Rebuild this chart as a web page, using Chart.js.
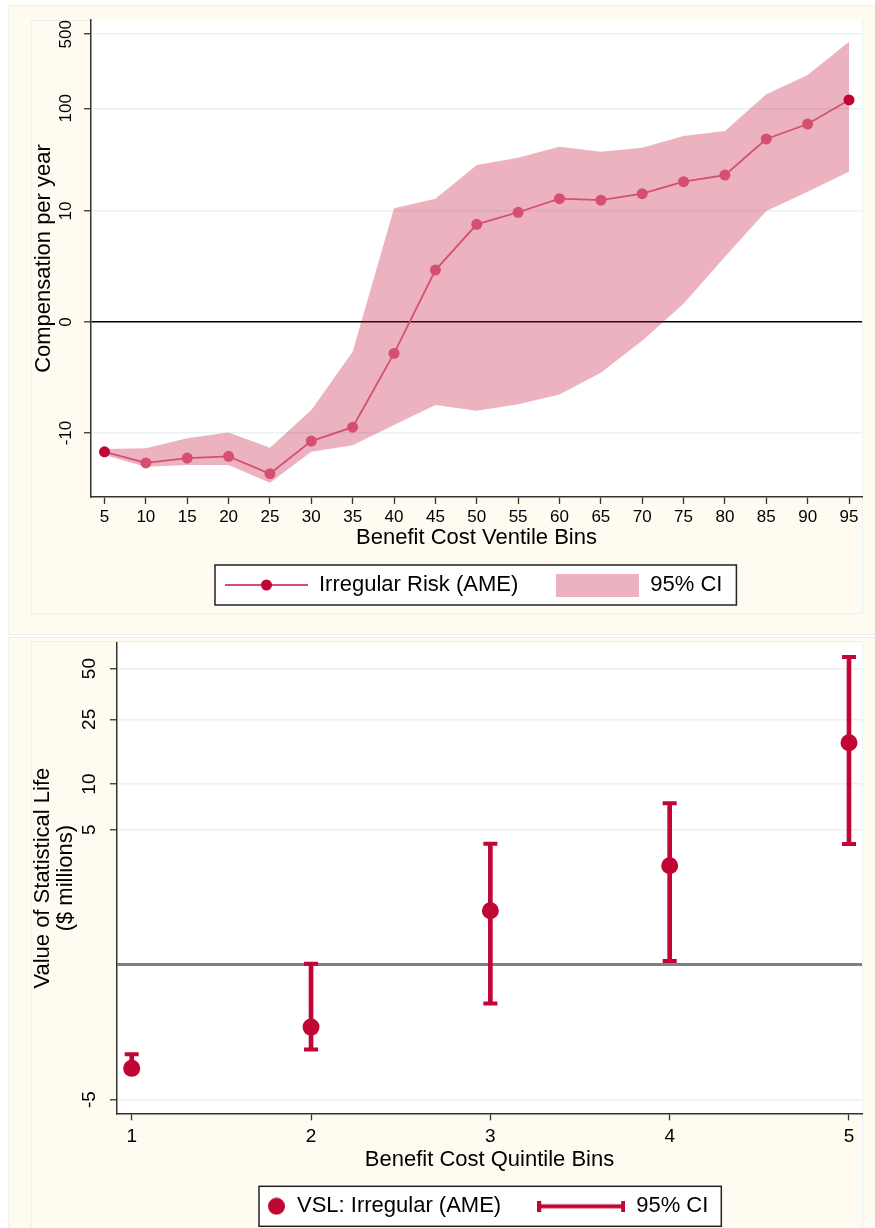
<!doctype html>
<html>
<head>
<meta charset="utf-8">
<script src="https://cdn.jsdelivr.net/npm/chart.js@4.4.1/dist/chart.umd.min.js"></script>
<style>
  body { margin: 0; background: #fff; width: 875px; height: 1228px; position: relative; overflow: hidden; }
  .region { position: absolute; background: #fffbf0; border: 1px solid #e9f1f4; box-sizing: border-box; }
  canvas { position: absolute; left: 0; }
</style>
</head>
<body>
  <div class="region" style="left:8px; top:5px; width:880px; height:630px;"></div>
  <div class="region" style="left:31px; top:20px; width:832px; height:594px;"></div>
  <div class="region" style="left:8px; top:637px; width:880px; height:600px;"></div>
  <div class="region" style="left:31px; top:641px; width:832px; height:600px;"></div>
  <canvas id="top" width="875" height="636" style="top:0"></canvas>
  <canvas id="bottom" width="875" height="596" style="top:632px"></canvas>
  <script>
    // top panel: ventile bins
    const bins = [5, 10, 15, 20, 25, 30, 35, 40, 45, 50, 55, 60, 65, 70, 75, 80, 85, 90, 95];
    const ame = [-15.5, -20.0, -17.9, -17.2, -25.5, -12.1, -8.7, -0.97, 2.07, 7.25, 9.7, 13.35, 12.9, 15.0, 19.7, 22.9, 51.1, 71.0, 120];
    const ciUpper = [-14.5, -14.3, -11.3, -9.9, -14.1, -5.7, -0.9, 10.7, 13.3, 28.7, 33.8, 43.1, 38.6, 42.2, 54.6, 60.9, 135.8, 206.5, 425];
    const ciLower = [-16.7, -21.8, -20.9, -20.9, -31.2, -15.5, -13.3, -8.25, -5.0, -5.8, -4.9, -3.8, -2.0, -0.5, 0.48, 3.1, 10.0, 15.7, 24.7];
    const yTicksTop = [-10, 0, 10, 100, 500];

    // bottom panel: quintile bins
    const quintiles = [1, 2, 3, 4, 5];
    const vsl = [-2.96, -1.29, 1.05, 2.72, 18.05];
    const vslUpper = [-2.28, 0.013, 3.98, 7.54, 58.5];
    const vslLower = [-3.1, -2.08, -0.675, 0.049, 3.96];
    const yTicksBottom = [-5, 0, 5, 10, 25, 50];
    const yLabelsBottom = ['-5', '', '5', '10', '25', '50'];

    // signed log axis, like the Stata graph
    const slog = v => Math.sign(v) * Math.log10(1 + Math.abs(v));

    const CRAN = '#c10534';
    const LINE = '#d4506e';
    const BAND = 'rgba(193,5,52,0.31)';
    const GRID = '#eaf2f3';
    const AXIS = '#333';

    Chart.defaults.font.family = '"Liberation Sans", Arial, sans-serif';
    Chart.defaults.color = '#000';

    function symbol(w, h, draw) {
      const c = document.createElement('canvas');
      c.width = w; c.height = h;
      draw(c.getContext('2d'), w, h);
      return c;
    }
    const symLine = symbol(83, 14, (g, w, h) => {
      g.strokeStyle = LINE; g.lineWidth = 2;
      g.beginPath(); g.moveTo(0, h / 2); g.lineTo(w, h / 2); g.stroke();
      g.fillStyle = CRAN; g.beginPath(); g.arc(w / 2, h / 2, 5.5, 0, 2 * Math.PI); g.fill();
    });
    const symBand = symbol(83, 23, (g, w, h) => { g.fillStyle = '#ebb3c0'; g.fillRect(0, 0, w, h); });
    const symDot = symbol(88, 18, (g, w, h) => {
      g.fillStyle = CRAN; g.beginPath(); g.arc(78.5, 9, 8.5, 0, 2 * Math.PI); g.fill();
    });
    const symBar = symbol(88, 11, (g, w, h) => {
      g.fillStyle = CRAN;
      g.fillRect(0, 3.5, w, 4); g.fillRect(0, 0, 4, h); g.fillRect(w - 4, 0, 4, h);
    });

    // white plot area + boxed legend placed where Stata puts it
    const frame = {
      id: 'frame',
      afterUpdate(chart, args, opts) {
        const lg = chart.legend;
        const hb = lg.legendHitBoxes;
        const shift = opts.first - hb[0].left;
        lg.left += shift; lg.right += shift;
        hb.forEach(h => { h.left += shift; });
      },
      beforeDraw(chart, args, opts) {
        const {ctx, chartArea: a} = chart;
        ctx.save();
        ctx.fillStyle = '#fff';
        ctx.fillRect(a.left, a.top, a.right - a.left, a.bottom - a.top);
        const hb = chart.legend.legendHitBoxes;
        const last = hb[hb.length - 1];
        const x0 = hb[0].left + opts.inset - opts.padL;
        const x1 = last.left + last.width + opts.padR;
        const cy = hb[0].top + hb[0].height / 2;
        ctx.fillRect(x0, cy - opts.halfH, x1 - x0, 2 * opts.halfH);
        ctx.strokeStyle = '#222';
        ctx.lineWidth = 1.5;
        ctx.strokeRect(x0, cy - opts.halfH, x1 - x0, 2 * opts.halfH);
        ctx.restore();
      }
    };

    const isZero = c => c.tick && Math.abs(c.tick.value) < 1e-9;
    const fixY = w => s => { s.width = w; s.paddingTop = 0; s.paddingBottom = 0; };

    new Chart(document.getElementById('top'), {
      type: 'line',
      data: {
        datasets: [{
          label: 'Irregular Risk (AME)',
          data: bins.map((b, i) => ({x: b, y: slog(ame[i])})),
          borderColor: LINE,
          borderWidth: 1.8,
          pointRadius: 5.5,
          pointBorderWidth: 0,
          pointBackgroundColor: bins.map((b, i) => (i === 0 || i === bins.length - 1) ? CRAN : LINE),
          fill: false,
          order: 0
        }, {
          label: 'upper',
          data: bins.map((b, i) => ({x: b, y: slog(ciUpper[i])})),
          borderColor: 'rgba(0,0,0,0)',
          pointRadius: 0,
          backgroundColor: BAND,
          fill: '+1',
          order: 1
        }, {
          label: 'lower',
          data: bins.map((b, i) => ({x: b, y: slog(ciLower[i])})),
          borderColor: 'rgba(0,0,0,0)',
          pointRadius: 0,
          fill: false,
          order: 2
        }]
      },
      options: {
        responsive: false,
        animation: false,
        events: [],
        layout: {padding: {left: 0, top: 20, right: 13, bottom: 30}},
        scales: {
          x: {
            type: 'linear', min: 3.368, max: 96.57,
            afterBuildTicks: s => { s.ticks = bins.map(v => ({value: v})); },
            afterFit: s => { s.height = 39; },
            ticks: {autoSkip: false, maxRotation: 0, padding: 3, font: {size: 17}},
            grid: {drawOnChartArea: false, tickLength: 7, color: AXIS, tickWidth: 1.3},
            border: {color: AXIS, width: 1.5},
            title: {display: true, text: 'Benefit Cost Ventile Bins', font: {size: 22}, padding: {top: 0, bottom: -15.2}}
          },
          y: {
            type: 'linear', min: -1.6417, max: 2.833,
            afterBuildTicks: s => { s.ticks = yTicksTop.map(v => ({value: slog(v)})); },
            afterFit: fixY(91),
            ticks: {
              autoSkip: false, minRotation: 90, maxRotation: 90, crossAlign: 'center', padding: 3.8,
              font: {size: 17}, callback: (v, i) => String(yTicksTop[i])
            },
            grid: {
              color: c => isZero(c) ? '#000' : GRID,
              lineWidth: c => isZero(c) ? 1.6 : 1.5,
              tickColor: AXIS, tickLength: 7, tickWidth: 1.3
            },
            border: {color: AXIS, width: 1.5},
            title: {display: true, text: 'Compensation per year', font: {size: 22}, padding: {top: 30.8}}
          }
        },
        plugins: {
          tooltip: {enabled: false},
          frame: {first: 225, inset: 0, padL: 10, padR: 14, halfH: 20},
          legend: {
            position: 'bottom', fullSize: false,
            labels: {
              usePointStyle: true, pointStyleWidth: 83, padding: 38, font: {size: 22}, color: '#000',
              generateLabels: () => [
                {text: 'Irregular Risk (AME)', pointStyle: symLine, lineWidth: 0, strokeStyle: 'rgba(0,0,0,0)', fillStyle: 'rgba(0,0,0,0)'},
                {text: '95% CI', pointStyle: symBand, lineWidth: 0, strokeStyle: 'rgba(0,0,0,0)', fillStyle: 'rgba(0,0,0,0)'}
              ]
            }
          }
        }
      },
      plugins: [frame]
    });

    new Chart(document.getElementById('bottom'), {
      type: 'scatter',
      data: {
        datasets: [{
          type: 'scatter',
          label: 'VSL: Irregular (AME)',
          data: quintiles.map((q, i) => ({x: q, y: slog(vsl[i])})),
          pointRadius: 8.5,
          pointBorderWidth: 0,
          pointBackgroundColor: CRAN,
          order: 0
        }, {
          type: 'scatter',
          label: 'caps',
          data: quintiles.flatMap((q, i) => [{x: q, y: slog(vslLower[i])}, {x: q, y: slog(vslUpper[i])}]),
          pointStyle: 'line',
          pointRadius: 7,
          pointBorderWidth: 4,
          pointBorderColor: CRAN,
          order: 1
        }, {
          type: 'bar',
          label: '95% CI',
          data: quintiles.map((q, i) => ({x: q, y: [slog(vslLower[i]), slog(vslUpper[i])]})),
          backgroundColor: CRAN,
          borderWidth: 0,
          barThickness: 4,
          order: 2
        }]
      },
      options: {
        responsive: false,
        animation: false,
        events: [],
        layout: {padding: {left: 0, top: 9.7, right: 13, bottom: 0.7}},
        scales: {
          x: {
            type: 'linear', min: 0.918, max: 5.0725, offset: false,
            afterBuildTicks: s => { s.ticks = quintiles.map(v => ({value: v})); },
            afterFit: s => { s.height = 46; },
            ticks: {autoSkip: false, maxRotation: 0, padding: 5, font: {size: 19}},
            grid: {drawOnChartArea: false, offset: false, tickLength: 7, color: AXIS, tickWidth: 1.3},
            border: {color: AXIS, width: 1.5},
            title: {display: true, text: 'Benefit Cost Quintile Bins', font: {size: 22}, padding: {top: 0, bottom: -14}}
          },
          y: {
            type: 'linear', min: -0.8568, max: 1.8551,
            afterBuildTicks: s => { s.ticks = yTicksBottom.map(v => ({value: slog(v)})); },
            afterFit: fixY(117),
            ticks: {
              autoSkip: false, minRotation: 90, maxRotation: 90, crossAlign: 'center', padding: 9.4,
              font: {size: 19}, callback: (v, i) => yLabelsBottom[i]
            },
            grid: {
              color: c => isZero(c) ? '#808080' : GRID,
              lineWidth: c => isZero(c) ? 3 : 1.5,
              tickColor: c => isZero(c) ? 'rgba(0,0,0,0)' : AXIS,
              tickLength: 7, tickWidth: 1.3
            },
            border: {color: AXIS, width: 1.5},
            title: {display: true, text: ['Value of Statistical Life', '($ millions)'], font: {size: 22, lineHeight: 1.02}, padding: {top: 32}}
          }
        },
        plugins: {
          tooltip: {enabled: false},
          frame: {first: 198, inset: 70, padL: 9, padR: 13, halfH: 20},
          legend: {
            position: 'bottom', fullSize: false,
            labels: {
              usePointStyle: true, pointStyleWidth: 88, padding: 36, font: {size: 22}, color: '#000',
              generateLabels: () => [
                {text: 'VSL: Irregular (AME)', pointStyle: symDot, lineWidth: 0, strokeStyle: 'rgba(0,0,0,0)', fillStyle: 'rgba(0,0,0,0)'},
                {text: '95% CI', pointStyle: symBar, lineWidth: 0, strokeStyle: 'rgba(0,0,0,0)', fillStyle: 'rgba(0,0,0,0)'}
              ]
            }
          }
        }
      },
      plugins: [frame]
    });
  </script>
</body>
</html>
